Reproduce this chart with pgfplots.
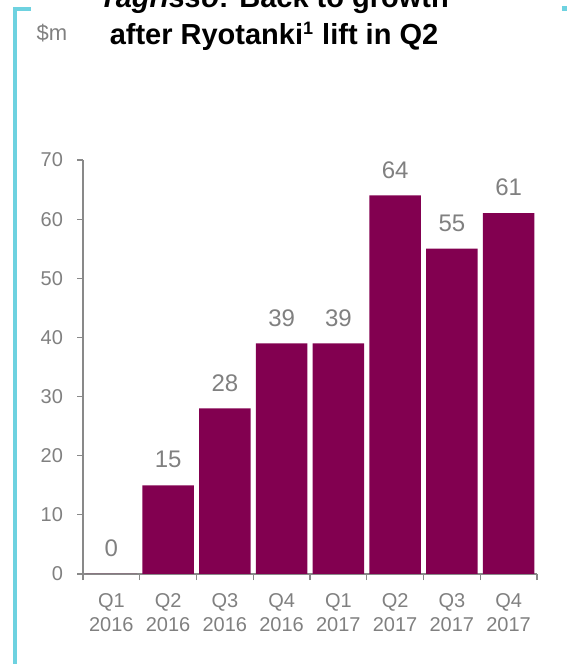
\documentclass[border=0pt]{standalone}
\usepackage{pgfplots}
\pgfplotsset{compat=1.18}
\usepackage{fontspec}
\setmainfont{Liberation Sans}
\definecolor{barc}{RGB}{130,0,80}
\definecolor{txtgray}{RGB}{128,128,128}
\definecolor{axgray}{RGB}{137,137,137}
\definecolor{cyanb}{RGB}{110,210,224}
\begin{document}
\begin{tikzpicture}
\begin{axis}[
  at={(41.5pt,45pt)}, anchor=south west, scale only axis,
  width=227pt, height=207pt,
  xmin=0, xmax=8, ymin=0, ymax=70,
  axis x line*=bottom, axis y line*=left,
  axis line style={-, draw=axgray, line width=0.6pt},
  /pgf/number format/assume math mode=true,
  ytick={0,10,...,70},
  xtick={0.5,1.5,...,7.5},
  xticklabels={Q1\\2016,Q2\\2016,Q3\\2016,Q4\\2016,Q1\\2017,Q2\\2017,Q3\\2017,Q4\\2017},
  minor xtick={0,1,...,8},
  tick align=outside,
  major tick length=3pt, minor tick length=3pt,
  major x tick style={draw=none},
  tick style={draw=axgray, line width=0.6pt},
  xticklabel style={align=center, font=\fontsize{10}{12}\selectfont, text=txtgray, yshift=-3pt},
  yticklabel style={font=\fontsize{10}{12}\selectfont, text=txtgray, xshift=-3.5pt},
  ybar, bar width=25.75pt,
  nodes near coords,
  nodes near coords style={font=\fontsize{12}{14}\selectfont, text=txtgray, yshift=5pt},
  clip=false,
]
\addplot[fill=barc, draw=none] coordinates {(0.5,0) (1.5,15) (2.5,28) (3.5,39) (4.5,39) (5.5,64) (6.5,55) (7.5,61)};
\end{axis}
\begin{scope}[x=0.5pt,y=0.5pt]
\draw[cyanb, line width=2pt] (15,0) -- (15,655) -- (31,655);
\fill[cyanb] (562,653) rectangle (567,658);
\node[anchor=base, font=\bfseries\fontsize{14.5}{17}\selectfont, inner sep=0pt] at (274,656) {\textit{Tagrisso}: Back to growth};
\node[anchor=base, font=\bfseries\fontsize{14.5}{17}\selectfont, inner sep=0pt] at (274,619) {after Ryotanki\textsuperscript{\fontsize{9}{10}\selectfont 1} lift in Q2};
\node[text=txtgray, font=\fontsize{11}{13}\selectfont] at (52,631) {\$m};
\pgfresetboundingbox
\path[use as bounding box] (0,0) rectangle (567,664);
\end{scope}
\end{tikzpicture}
\end{document}
